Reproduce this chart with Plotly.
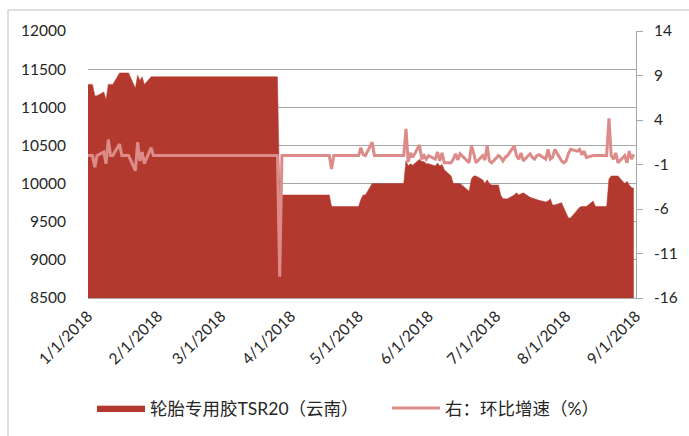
import plotly.graph_objects as go

dates = [
    "2018-01-01", "2018-01-02", "2018-01-03", "2018-01-04", "2018-01-05",
    "2018-01-08", "2018-01-09", "2018-01-10", "2018-01-11", "2018-01-12",
    "2018-01-15", "2018-01-16", "2018-01-19", "2018-01-22", "2018-01-23",
    "2018-01-24", "2018-01-25", "2018-01-26", "2018-01-29", "2018-01-30",
    "2018-03-26", "2018-03-27", "2018-03-28", "2018-04-18", "2018-04-19",
    "2018-04-20", "2018-05-01", "2018-05-02", "2018-05-03", "2018-05-04",
    "2018-05-07", "2018-05-08", "2018-05-21", "2018-05-22", "2018-05-23",
    "2018-05-24", "2018-05-25", "2018-05-28", "2018-05-29", "2018-05-30",
    "2018-05-31", "2018-06-01", "2018-06-04", "2018-06-05", "2018-06-06",
    "2018-06-07", "2018-06-08", "2018-06-11", "2018-06-12", "2018-06-13",
    "2018-06-14", "2018-06-15", "2018-06-19", "2018-06-20", "2018-06-21",
    "2018-06-22", "2018-06-25", "2018-06-26", "2018-06-27", "2018-06-28",
    "2018-06-29", "2018-07-02", "2018-07-03", "2018-07-04", "2018-07-05",
    "2018-07-06", "2018-07-09", "2018-07-10", "2018-07-11", "2018-07-12",
    "2018-07-13", "2018-07-16", "2018-07-17", "2018-07-18", "2018-07-19",
    "2018-07-20", "2018-07-23", "2018-07-24", "2018-07-25", "2018-07-26",
    "2018-07-27", "2018-07-30", "2018-07-31", "2018-08-01", "2018-08-02",
    "2018-08-03", "2018-08-06", "2018-08-07", "2018-08-08", "2018-08-09",
    "2018-08-10", "2018-08-13", "2018-08-14", "2018-08-17", "2018-08-19",
    "2018-08-20", "2018-08-21", "2018-08-22", "2018-08-23", "2018-08-24",
    "2018-08-27", "2018-08-28", "2018-08-29", "2018-08-30", "2018-08-31",
]

price = [
    11300, 11300, 11300, 11150, 11150,
    11200, 11100, 11300, 11300, 11300,
    11450, 11450, 11450, 11250, 11420,
    11350, 11400, 11300, 11400, 11400,
    11400, 9850, 9850, 9850, 9700,
    9700, 9700, 9790, 9850, 9850,
    10000, 10000, 10000, 10300, 10230,
    10260, 10240, 10320, 10290, 10290,
    10260, 10260, 10230, 10270, 10230,
    10250, 10180, 10100, 10000, 10000,
    10000, 10000, 9900, 10060, 10100,
    10100, 10050, 10000, 10050, 10000,
    9980, 9980, 9850, 9800, 9800,
    9800, 9850, 9880, 9850, 9870,
    9880, 9820, 9810, 9800, 9800,
    9780, 9760, 9770, 9800, 9720,
    9720, 9750, 9680, 9620, 9550,
    9550, 9660, 9690, 9700, 9700,
    9700, 9770, 9700, 9700, 9700,
    10060, 10100, 10100, 10100, 10100,
    10000, 10030, 9980, 9950, 9940,
]

pct = [
    0, 0, 0, -1.3, 0,
    0.4, -0.9, 1.8, 0, 0,
    1.3, 0, 0, -1.7, 1.5,
    -0.6, 0.4, -0.9, 0.9, 0,
    0, -13.6, 0, 0, -1.5,
    0, 0, 0.9, 0.1, 0,
    1.5, 0, 0, 3.0, -0.7,
    0.3, -0.2, 1.2, -0.4, 0,
    -0.4, 0, -0.4, 0.4, -0.6,
    0.3, -0.8, -0.8, -0.4, 0.2,
    -0.5, 0.2, -0.8, 1.1, 0.3,
    -0.8, 0, -0.5, 1.1, -0.6,
    -0.8, 0, -0.2, -0.6, -0.2,
    0, 1.1, 0, -0.4, 0.3,
    -0.6, 0.2, -0.2, -0.4, 0,
    0.1, -0.4, 0.7, -0.4, -0.2,
    0.7, -0.6, -0.8, -0.6, 0.2,
    0.7, 0.5, 0.7, 0.1, 0.5,
    -0.2, 0, 0, 0, 0,
    4.2, 0, -0.4, 0.3, -0.8,
    0, -0.8, 0.5, -0.4, 0.15,
]

tick_dates = ["2018-01-01", "2018-02-01", "2018-03-01", "2018-04-01", "2018-05-01",
              "2018-06-01", "2018-07-01", "2018-08-01", "2018-09-01"]
tick_text = ["1/1/2018", "2/1/2018", "3/1/2018", "4/1/2018", "5/1/2018",
             "6/1/2018", "7/1/2018", "8/1/2018", "9/1/2018"]
left_ticks = [8500, 9000, 9500, 10000, 10500, 11000, 11500, 12000]
left_text = ["8500", "9000", "9500", "10000", "10500", "11000", "11500", "12000"]
right_ticks = [-16, -11, -6, -1, 4, 9, 14]
right_text = ["-16", "-11", "-6", "-1", "4", "9", "14"]

name_price = "轮胎专用胶TSR20（云南）"
name_pct = "右：环比增速（%）"

FONT = "Lato, 'Noto Sans CJK SC', sans-serif"
RED = "#b3392f"
PINK = "#dc8b89"

fig = go.Figure()
fig.add_trace(go.Scatter(
    x=dates, y=price, name=name_price, mode="lines",
    line=dict(color=RED, width=0.5), fill="tozeroy", fillcolor=RED,
    yaxis="y", legend="legend",
))
fig.add_trace(go.Scatter(
    x=dates, y=pct, name=name_pct, mode="lines",
    line=dict(color=PINK, width=3), yaxis="y2", legend="legend2",
))

W, H = 689, 436
ml, mr, mt, mb = 88, 53, 31, 138
pw, ph = W - ml - mr, H - mt - mb

def px_x(px):
    return (px - ml) / pw

def px_y(py):
    return (H - mb - py) / ph

leg_common = dict(orientation="h", xanchor="left", yanchor="middle",
                  y=px_y(408), font=dict(size=17.5, color="#262626"),
                  itemwidth=48, bgcolor="rgba(0,0,0,0)")

fig.update_layout(
    width=W, height=H,
    margin=dict(l=ml, r=mr, t=mt, b=mb, autoexpand=False),
    paper_bgcolor="white", plot_bgcolor="white",
    font=dict(family=FONT, size=15.5, color="#262626"),
    showlegend=True,
    legend=dict(x=px_x(92), **leg_common),
    legend2=dict(x=px_x(387), **leg_common),
    xaxis=dict(type="date", range=["2018-01-01", "2018-09-01"],
               tickmode="array", tickvals=tick_dates, ticktext=tick_text,
               tickangle=-45, showgrid=False, showline=True,
               linecolor="#a6a6a6", linewidth=1, ticks="",
               zeroline=False, ticklabelstandoff=2, automargin=False),
    yaxis=dict(range=[8500, 12000], tickmode="array", tickvals=left_ticks,
               ticktext=left_text,
               showgrid=True, gridcolor="#a6a6a6", gridwidth=1,
               showline=False, zeroline=False, ticks="",
               ticklabelstandoff=21, automargin=False),
    yaxis2=dict(range=[-16, 14], tickmode="array", tickvals=right_ticks,
                ticktext=right_text,
                overlaying="y", side="right", showgrid=False,
                showline=True, linecolor="#a6a6a6", linewidth=1,
                ticks="outside", ticklen=6, tickcolor="#a6a6a6",
                zeroline=False, ticklabelstandoff=8, automargin=False),
    shapes=[
        dict(type="line", xref="paper", yref="paper",
             x0=px_x(8), x1=px_x(8), y0=px_y(436), y1=px_y(10),
             line=dict(color="#bfbfbf", width=1)),
        dict(type="line", xref="paper", yref="paper",
             x0=px_x(8), x1=px_x(689), y0=px_y(10), y1=px_y(10),
             line=dict(color="#bfbfbf", width=1)),
    ],
)

fig.write_html("out.html", config={"displayModeBar": False},
               post_script="document.body.style.margin='0px';")
